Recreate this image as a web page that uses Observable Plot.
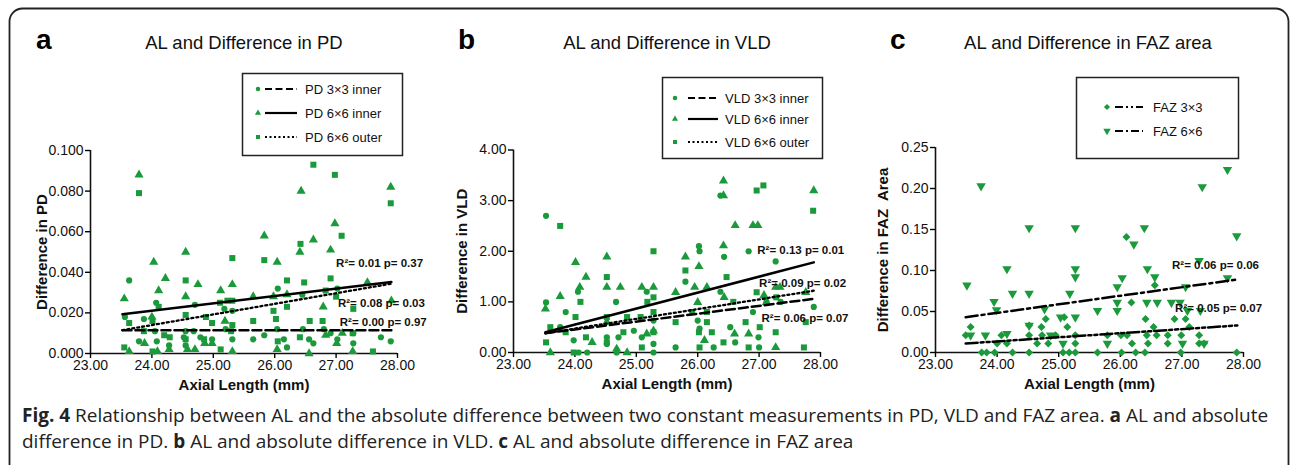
<!DOCTYPE html>
<html><head><meta charset="utf-8">
<script src="https://cdn.jsdelivr.net/npm/d3@7"></script>
<script src="https://cdn.jsdelivr.net/npm/@observablehq/plot@0.6"></script>
<style>
body{margin:0;width:1293px;height:465px;overflow:hidden;background:#fff;position:relative;font-family:"Liberation Sans",Arial,sans-serif}
.abs{position:absolute}
.title{font-size:18.5px;color:#111;white-space:nowrap;transform:translate(-50%,-50%)}
.letter{font-size:28px;font-weight:bold;color:#000;transform:translateY(-50%)}
.cap{left:22px;font-family:"Open Sans",sans-serif;font-size:19px;color:#222;white-space:nowrap;line-height:22px}
#overlay{position:absolute;left:0;top:0;pointer-events:none}
</style></head><body>
<script>
const GREEN = "#1b9a3c";
const xTicks = [23, 24, 25, 26, 27, 28];
const pdTicks = [0, 0.02, 0.04, 0.06, 0.08, 0.1];
const vldTicks = [0, 1, 2, 3, 4];
const fazTicks = [0, 0.05, 0.1, 0.15, 0.2, 0.25];

// Panel a: PD
const pd3Inner = [[23.63,0.036],[23.56,0.018],[23.79,0.006],[23.87,0.017],[24.07,0.025],[24.05,0.011],[24.08,0.006],[24.28,0.004],[24.55,0.011],[24.52,0.008],[24.55,0.004],[24.70,0.024],[24.68,0.011],[24.79,0.008],[24.98,0.007],[25.18,0.022],[25.20,0.012],[25.31,0.021],[25.31,0.007],[25.65,0.007],[25.83,0.009],[26.05,0.032],[26.04,0.012],[26.15,0.007],[26.20,0.003],[26.45,0.029],[26.46,0.012],[26.56,0.007],[26.63,0.005],[26.80,0.012],[26.91,0.010],[27.02,0.032],[27.02,0.007],[27.28,0.005],[27.28,0.010],[27.73,0.008],[27.89,0.006]];
const pd6Inner = [[23.55,0.027],[23.79,0.088],[23.63,0.001],[23.88,0.005],[24.03,0.045],[24.00,0.018],[24.11,0.031],[24.22,0.037],[24.09,0.001],[24.28,0.002],[24.55,0.050],[24.55,0.028],[24.75,0.034],[24.58,0.002],[24.70,0.002],[24.86,0.005],[25.12,0.031],[24.98,0.005],[25.31,0.034],[25.19,0.016],[25.31,0.001],[25.65,0.028],[25.83,0.058],[26.04,0.045],[25.98,0.028],[26.04,0.002],[26.20,0.029],[26.41,0.050],[26.43,0.080],[26.56,0.000],[26.63,0.056],[26.79,0.023],[26.83,0.009],[26.91,0.051],[26.98,0.064],[27.01,0.005],[27.10,0.010],[27.27,0.001],[27.51,0.035],[27.89,0.082],[27.90,0.026]];
const pd6Outer = [[23.79,0.079],[23.55,0.003],[23.63,0.015],[23.87,0.011],[24.01,0.016],[24.01,0.001],[24.20,0.009],[24.29,0.008],[24.11,0.023],[24.55,0.036],[24.55,0.019],[24.55,0.007],[24.88,0.018],[24.85,0.007],[24.98,0.015],[25.11,0.025],[25.12,0.002],[25.23,0.026],[25.31,0.047],[25.31,0.014],[25.31,0.026],[25.29,0.011],[25.65,0.016],[25.83,0.046],[25.98,0.021],[26.02,0.017],[26.05,0.006],[26.20,0.036],[26.20,0.023],[26.42,0.054],[26.48,0.035],[26.41,0.008],[26.57,0.016],[26.63,0.093],[26.78,0.016],[26.83,0.031],[26.91,0.037],[26.98,0.088],[27.00,0.028],[27.09,0.058],[27.27,0.010],[27.28,0.022],[27.60,0.001],[27.89,0.074]];
const pdFitX = [23.52, 27.90];
const pdFit3Inner = [0.0115, 0.0115];
const pdFit6Inner = [0.0193, 0.0352];
const pdFit6Outer = [0.0115, 0.0344];
const pdStats = ["R²= 0.01 p= 0.37", "R²= 0.08 p= 0.03", "R²= 0.00 p= 0.97"];
const pdStatX = [27.0, 27.03, 27.06];
const pdStatY = [0.0443, 0.0246, 0.0155];

// Panel b: VLD
const vld3Inner = [[23.53,2.70],[23.53,0.99],[23.85,0.80],[24.05,1.20],[23.76,0.50],[23.98,0.24],[24.06,0.00],[24.20,0.00],[24.52,0.30],[24.52,0.17],[24.67,1.00],[24.68,0.00],[24.71,0.30],[24.96,0.43],[25.09,0.30],[25.17,1.20],[25.28,0.63],[25.28,0.17],[25.28,0.00],[25.64,0.10],[25.80,1.40],[26.02,2.10],[26.03,2.00],[26.00,0.63],[26.03,0.47],[26.26,0.10],[26.37,1.20],[26.43,1.89],[26.53,0.50],[26.61,0.20],[26.83,2.00],[26.90,0.80],[26.99,0.30],[27.12,1.00],[27.27,1.80],[27.35,1.00],[27.89,0.90],[26.37,3.10],[27.00,0.10]];
const vld6Inner = [[23.52,0.86],[23.60,0.00],[23.76,1.11],[24.01,1.78],[24.08,1.29],[24.18,1.49],[24.28,0.20],[24.52,1.89],[24.52,1.29],[24.52,0.60],[24.74,1.29],[24.68,0.07],[24.85,0.00],[25.09,1.29],[25.28,1.29],[25.28,0.43],[25.17,0.37],[25.64,1.19],[25.80,1.89],[25.95,1.29],[26.02,1.70],[26.00,0.99],[26.15,1.29],[26.11,0.24],[26.42,3.39],[26.42,3.10],[26.43,1.09],[26.42,2.11],[26.61,2.51],[26.60,0.37],[26.83,0.37],[26.90,2.51],[26.98,2.51],[27.08,1.13],[27.12,0.99],[27.27,1.29],[27.27,0.10],[27.34,1.29],[27.89,3.20],[27.76,1.19]];
const vld6Outer = [[23.53,0.20],[23.60,0.50],[23.76,2.50],[23.85,0.40],[23.98,0.00],[24.01,0.70],[24.09,1.00],[24.18,0.30],[24.52,1.49],[24.52,0.70],[24.52,0.20],[24.79,0.40],[24.85,0.70],[25.09,0.10],[25.07,0.70],[25.18,1.00],[25.28,2.00],[25.28,0.80],[25.28,1.09],[25.28,0.40],[25.64,0.60],[25.80,1.62],[25.91,0.80],[26.02,0.40],[26.03,0.10],[26.15,0.80],[26.23,0.40],[26.15,0.60],[26.47,1.49],[26.42,0.20],[26.58,1.00],[26.78,0.60],[26.83,0.10],[26.96,3.20],[27.07,3.30],[26.96,1.19],[27.01,0.50],[27.27,0.40],[27.28,1.09],[27.73,0.10],[27.88,2.80],[27.76,0.60]];
const vldFitX = [23.52, 27.89];
const vldFit3Inner = [0.38, 1.06];
const vldFit6Inner = [0.40, 1.78];
const vldFit6Outer = [0.38, 1.22];
const vldStats = ["R²= 0.13 p= 0.01", "R²= 0.09 p= 0.02", "R²= 0.06 p= 0.07"];
const vldStatX = [26.97, 27.0, 27.04];
const vldStatY = [2.02, 1.36, 0.67];

// Panel c: FAZ area
const faz3 = [[23.49,0.021],[23.57,0.031],[23.75,0.0],[23.83,0.0],[23.96,0.0],[24.00,0.011],[24.07,0.021],[24.25,0.0],[24.16,0.011],[24.52,0.0],[24.52,0.021],[24.52,0.033],[24.65,0.011],[24.72,0.031],[24.73,0.021],[24.79,0.041],[24.83,0.011],[24.95,0.021],[25.07,0.0],[25.09,0.043],[25.17,0.0],[25.14,0.031],[25.27,0.0],[25.27,0.011],[25.27,0.021],[25.63,0.0],[25.79,0.021],[26.01,0.021],[26.02,0.0],[26.11,0.021],[26.10,0.141],[26.18,0.061],[26.19,0.011],[26.25,0.0],[26.40,0.0],[26.41,0.041],[26.43,0.021],[26.45,0.011],[26.54,0.031],[26.56,0.082],[26.59,0.021],[26.77,0.021],[26.77,0.011],[26.88,0.041],[26.98,0.0],[26.99,0.021],[27.06,0.041],[27.12,0.031],[27.28,0.021],[27.28,0.011],[27.36,0.011],[27.89,0.0]];
const faz6 = [[23.51,0.082],[23.74,0.203],[23.95,0.062],[23.99,0.052],[24.16,0.102],[24.25,0.072],[24.52,0.152],[24.52,0.072],[24.77,0.053],[25.03,0.043],[25.18,0.072],[25.27,0.152],[25.27,0.102],[25.27,0.092],[25.27,0.043],[25.63,0.051],[25.95,0.080],[26.03,0.091],[25.95,0.061],[25.95,0.051],[26.22,0.132],[26.39,0.152],[26.44,0.102],[26.56,0.092],[26.43,0.061],[26.60,0.061],[26.83,0.061],[26.97,0.061],[27.06,0.080],[27.09,0.051],[27.28,0.112],[27.33,0.202],[27.30,0.051],[27.74,0.223],[27.74,0.091],[27.89,0.142],[23.57,0.021],[23.81,0.021],[24.16,0.023],[24.52,0.033],[24.87,0.021],[25.07,0.011],[25.79,0.011],[27.01,0.011],[27.36,0.011]];
const fazFitX = [23.49, 27.90];
const fazFit3 = [0.011, 0.033];
const fazFit6 = [0.043, 0.089];
const fazStats = ["R²= 0.06 p= 0.06", "R²= 0.05 p= 0.07"];
const fazStatX = [26.84, 26.89];
const fazStatY = [0.106, 0.0537];

const invTriangle = {
  draw(ctx, size) {
    const y = -Math.sqrt(size / (Math.sqrt(3) * 3));
    ctx.moveTo(0, -y * 2);
    ctx.lineTo(-Math.sqrt(3) * y, y);
    ctx.lineTo(Math.sqrt(3) * y, y);
    ctx.closePath();
  }
};

const FONT = "'Liberation Sans', Arial, sans-serif";

function panel(o) {
  const yFmt = d3.format(o.yFmt);
  const xFmt = d3.format(".2f");
  const marks = [
    Plot.ruleX([23], {y1: o.yDomain[0], y2: o.yDomain[1], strokeWidth: 1.6, stroke: "#111"}),
    Plot.ruleY([0], {x1: 23, x2: 28, strokeWidth: 1.6, stroke: "#111"}),
    Plot.axisX({ticks: xTicks, tickFormat: () => "", tickSize: 5, strokeWidth: 1.4, label: null}),
    Plot.axisY({ticks: o.yTicks, tickFormat: () => "", tickSize: 5, strokeWidth: 1.4, label: null}),
    Plot.text(xTicks, {x: d => d, y: o.yDomain[0], text: d => xFmt(d), lineAnchor: "top", dy: 7, fontSize: 14, fill: "#111"}),
    Plot.text(o.yTicks, {x: 23, y: d => d, text: d => yFmt(d), textAnchor: "end", dx: -7, fontSize: 14, fill: "#111"})
  ];
  for (const s of o.series) {
    marks.push(Plot.dot(s.data, {x: d => d[0], y: d => d[1], symbol: s.symbol, r: s.r, fill: GREEN, stroke: "none"}));
  }
  for (const f of o.fits) {
    marks.push(Plot.line(o.fitX.map((x, i) => [x, f.values[i]]), {x: d => d[0], y: d => d[1], stroke: "#000", strokeWidth: f.width, strokeDasharray: f.dash}));
  }
  marks.push(Plot.text(o.stats, {x: (d, i) => o.statX[i], y: (d, i) => o.statY[i], text: d => d, textAnchor: "start", fontSize: 11.5, fontWeight: "bold", fill: "#111"}));
  marks.push(Plot.text([o.yLabel], {frameAnchor: "left", dx: o.labelDx, rotate: -90, textAnchor: "middle", lineAnchor: "middle", text: d => d, fontSize: 15, fontWeight: "bold", fill: "#111"}));
  marks.push(Plot.text(["Axial Length (mm)"], {frameAnchor: "bottom", dy: 32, textAnchor: "middle", lineAnchor: "middle", text: d => d, fontSize: 15, fontWeight: "bold", fill: "#111"}));
  const p = Plot.plot({
    width: o.width, height: 400,
    marginLeft: o.ml, marginRight: o.mr, marginTop: o.mt, marginBottom: o.mb,
    x: {domain: [23, 28]},
    y: {domain: o.yDomain},
    style: {fontSize: "14px", fontFamily: FONT, background: "transparent", overflow: "visible"},
    marks
  });
  p.style.position = "absolute";
  p.style.left = o.left + "px";
  p.style.top = "0px";
  document.body.appendChild(p);
}

panel({
  left: 0, width: 430, ml: 90, mr: 33, mt: 150, mb: 47,
  yDomain: [0, 0.1], yTicks: pdTicks, yFmt: ".3f", yLabel: "Difference in PD", labelDx: -48,
  series: [
    {data: pd3Inner, symbol: "circle", r: 3.1},
    {data: pd6Inner, symbol: "triangle", r: 3.4},
    {data: pd6Outer, symbol: "square", r: 3.4}
  ],
  fitX: pdFitX,
  fits: [
    {values: pdFit3Inner, dash: "9,4", width: 2.5},
    {values: pdFit6Inner, dash: null, width: 2.5},
    {values: pdFit6Outer, dash: "2,3", width: 2.3}
  ],
  stats: pdStats, statX: pdStatX, statY: pdStatY
});
panel({
  left: 430, width: 430, ml: 83, mr: 40, mt: 149.5, mb: 48,
  yDomain: [0, 4], yTicks: vldTicks, yFmt: ".2f", yLabel: "Difference in VLD", labelDx: -51,
  series: [
    {data: vld3Inner, symbol: "circle", r: 3.1},
    {data: vld6Inner, symbol: "triangle", r: 3.4},
    {data: vld6Outer, symbol: "square", r: 3.4}
  ],
  fitX: vldFitX,
  fits: [
    {values: vldFit3Inner, dash: "9,4", width: 2.5},
    {values: vldFit6Inner, dash: null, width: 2.5},
    {values: vldFit6Outer, dash: "2,3", width: 2.3}
  ],
  stats: vldStats, statX: vldStatX, statY: vldStatY
});
panel({
  left: 860, width: 433, ml: 75, mr: 50, mt: 147, mb: 48,
  yDomain: [0, 0.25], yTicks: fazTicks, yFmt: ".2f", yLabel: "Difference in FAZ\u00a0 Area", labelDx: -52,
  series: [
    {data: faz3, symbol: "diamond2", r: 3.6},
    {data: faz6, symbol: invTriangle, r: 3.5}
  ],
  fitX: fazFitX,
  fits: [
    {values: fazFit3, dash: "12,3,3,3,3,3", width: 2.5},
    {values: fazFit6, dash: "12,4,3,4", width: 2.5}
  ],
  stats: fazStats, statX: fazStatX, statY: fazStatY
});

// Titles and letters
const titles = [
  {letter: "a", lx: 36, text: "AL and Difference in PD", cx: 244},
  {letter: "b", lx: 458, text: "AL and Difference in VLD", cx: 667},
  {letter: "c", lx: 890, text: "AL and Difference in FAZ area", cx: 1088}
];
for (const t of titles) {
  const l = document.createElement("div");
  l.className = "abs letter"; l.style.left = t.lx + "px"; l.style.top = "40px"; l.textContent = t.letter;
  document.body.appendChild(l);
  const d = document.createElement("div");
  d.className = "abs title"; d.style.left = t.cx + "px"; d.style.top = "43px"; d.textContent = t.text;
  document.body.appendChild(d);
}

// Overlay: frame and legends
const svg = d3.select(document.body).append("svg").attr("id", "overlay").attr("width", 1293).attr("height", 465);
svg.append("rect").attr("x", 9.5).attr("y", 8.5).attr("width", 1279).attr("height", 500).attr("rx", 13)
  .attr("fill", "none").attr("stroke", "#222").attr("stroke-width", 1.8);

const legends = [
  {box: [242, 73, 160, 82], mx: 258, lx1: 265, lx2: 297, tx: 305,
   rows: [
     {y: 89, sym: d3.symbolCircle, size: 16, dash: "7,3.5", w: 2.2, label: "PD 3×3 inner"},
     {y: 113, sym: d3.symbolTriangle, size: 16, dash: null, w: 2.2, label: "PD 6×6 inner"},
     {y: 137, sym: d3.symbolSquare, size: 16, dash: "2,2.5", w: 2, label: "PD 6×6 outer"}
   ]},
  {box: [662, 77, 160, 81], mx: 675, lx1: 688, lx2: 718, tx: 725,
   rows: [
     {y: 98, sym: d3.symbolCircle, size: 16, dash: "7,3.5", w: 2.2, label: "VLD 3×3 inner"},
     {y: 119, sym: d3.symbolTriangle, size: 16, dash: null, w: 2.2, label: "VLD 6×6 inner"},
     {y: 142, sym: d3.symbolSquare, size: 16, dash: "2,2.5", w: 2, label: "VLD 6×6 outer"}
   ]},
  {box: [1076, 77, 162, 81], mx: 1107, lx1: 1115, lx2: 1143, tx: 1153,
   rows: [
     {y: 107, sym: d3.symbolDiamond2, size: 24, dash: "8,3,2,3,2,3", w: 2.2, label: "FAZ 3×3"},
     {y: 131, sym: invTriangle, size: 24, dash: "8,3,2,3", w: 2.2, label: "FAZ 6×6"}
   ]}
];
for (const lg of legends) {
  svg.append("rect").attr("x", lg.box[0] + 0.5).attr("y", lg.box[1] + 0.5).attr("width", lg.box[2]).attr("height", lg.box[3])
    .attr("fill", "#fff").attr("stroke", "#222").attr("stroke-width", 1.5);
  for (const r of lg.rows) {
    svg.append("path").attr("d", d3.symbol(r.sym, r.size)()).attr("transform", `translate(${lg.mx},${r.y})`).attr("fill", GREEN);
    svg.append("line").attr("x1", lg.lx1).attr("x2", lg.lx2).attr("y1", r.y).attr("y2", r.y)
      .attr("stroke", "#000").attr("stroke-width", r.w).attr("stroke-dasharray", r.dash);
    svg.append("text").attr("x", lg.tx).attr("y", r.y).attr("dy", "0.35em").attr("font-size", 13)
      .attr("font-family", FONT).attr("fill", "#111").text(r.label);
  }
}

// Caption
const cap1 = document.createElement("div");
cap1.className = "abs cap"; cap1.style.top = "404px";
cap1.innerHTML = "<b>Fig. 4</b> Relationship between AL and the absolute difference between two constant measurements in PD, VLD and FAZ area. <b>a</b> AL and absolute";
document.body.appendChild(cap1);
const cap2 = document.createElement("div");
cap2.className = "abs cap"; cap2.style.top = "430px";
cap2.innerHTML = "difference in PD. <b>b</b> AL and absolute difference in VLD. <b>c</b> AL and absolute difference in FAZ area";
document.body.appendChild(cap2);
</script>
</body></html>
